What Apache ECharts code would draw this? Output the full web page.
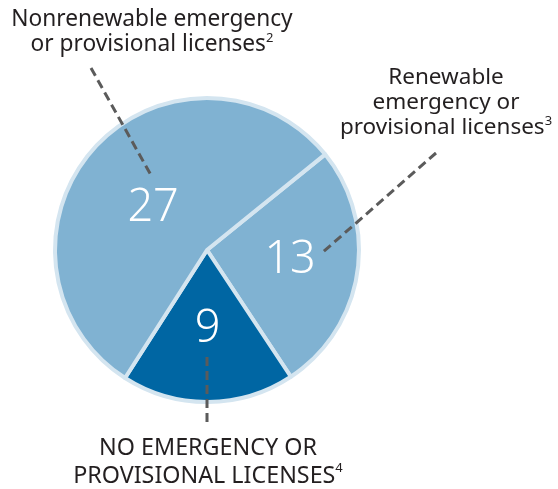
<!DOCTYPE html>
<html>
<head>
<meta charset="utf-8">
<script src="https://cdn.jsdelivr.net/npm/echarts@6/dist/echarts.min.js"></script>
<style>
  html, body { margin: 0; padding: 0; background: #fff; }
  #chart { width: 558px; height: 489px; }
</style>
</head>
<body>
<div id="chart"></div>
<script>
// slice order follows the drawing, clockwise from the upper-right boundary
const categories = ['Renewable', 'None', 'Nonrenewable']
const values = [13, 9, 27]
const sliceColors = ['#80b2d2', '#0066a3', '#80b2d2']
const labelNudge = [[5, -2], [0, 0], [5, 11]]

const labelFont = '"Noto Sans", sans-serif'
const leaderStyle = { stroke: '#5b5b5b', lineWidth: 3, lineDash: [9, 5] }

function outerText(x, y, text, size, lh) {
  return {
    type: 'text',
    x: x,
    y: y,
    style: {
      text: text,
      align: 'center',
      verticalAlign: 'top',
      rich: {
        a: { fontFamily: labelFont, fontSize: size, lineHeight: lh, fill: '#231f20', align: 'center' },
        s: { fontFamily: labelFont, fontSize: 13, lineHeight: lh, fill: '#231f20', verticalAlign: 'top', padding: [0, 0, 10, 0] }
      }
    },
    z: 10
  }
}

const chart = echarts.init(document.getElementById('chart'))
chart.setOption({
  animation: false,
  series: [{
    type: 'pie',
    center: [207, 250],
    radius: [0, 152],
    startAngle: 39,
    clockwise: true,
    silent: true,
    itemStyle: { borderColor: '#d4e5f0', borderWidth: 4 },
    label: {
      show: true,
      position: 'inside',
      color: '#fff',
      fontSize: 45,
      fontWeight: 300,
      fontFamily: labelFont,
      formatter: '{c}'
    },
    labelLine: { show: false },
    data: categories.map((name, i) => ({
      name: name,
      value: values[i],
      itemStyle: { color: sliceColors[i] },
      label: { offset: labelNudge[i] }
    }))
  }],
  graphic: [
    { type: 'line', shape: { x1: 91, y1: 68, x2: 152, y2: 177 }, style: leaderStyle, z: 5 },
    { type: 'line', shape: { x1: 436, y1: 153, x2: 323, y2: 252 }, style: leaderStyle, z: 5 },
    { type: 'line', shape: { x1: 207, y1: 357, x2: 207, y2: 426 }, style: leaderStyle, z: 5 },
    outerText(152, 7, '{a|Nonrenewable emergency}\n{a|or provisional licenses}{s|2}', 22.7, 25),
    outerText(446, 65, '{a|Renewable}\n{a|emergency or}\n{a|provisional licenses}{s|3}', 22.5, 25),
    outerText(208, 434, '{a|NO EMERGENCY OR}\n{a|PROVISIONAL LICENSES}{s|4}', 23.3, 28)
  ]
})
</script>
</body>
</html>
